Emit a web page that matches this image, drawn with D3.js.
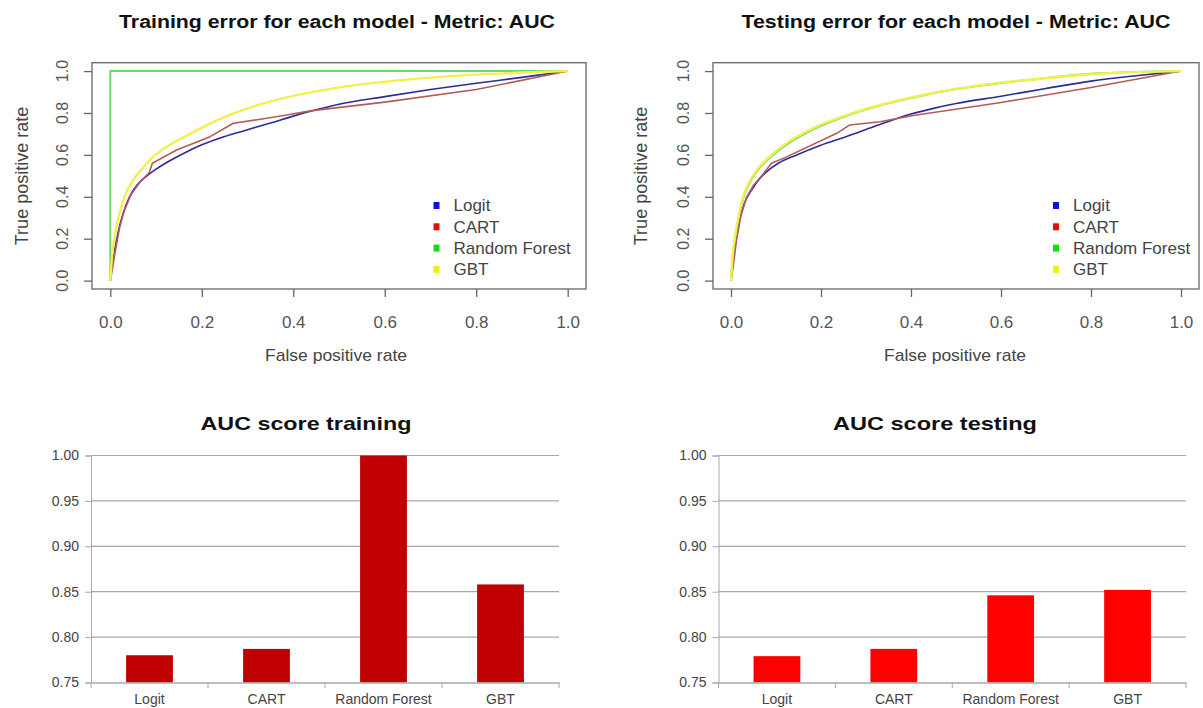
<!DOCTYPE html>
<html><head><meta charset="utf-8">
<script src="https://cdn.jsdelivr.net/npm/d3@7"></script>
<style>
body{margin:0;background:#fff}
svg{display:block}
text{font-family:"Liberation Sans",Arial,Helvetica,sans-serif}
</style>
</head><body>
<svg id="c" width="1203" height="708"></svg>
<script>
// ---------- DATA ----------
const models = ["Logit", "CART", "Random Forest", "GBT"];
const rocTicks = [0, 0.2, 0.4, 0.6, 0.8, 1.0];
const barTicks = [0.75, 0.80, 0.85, 0.90, 0.95, 1.00];

// ROC points [false positive rate, true positive rate] - training
const trainLogit = [[0,0],[0.004,0.07],[0.01,0.15],[0.018,0.24],[0.028,0.32],[0.042,0.4],[0.06,0.46],[0.08,0.5],[0.1,0.532],[0.13,0.572],[0.16,0.607],[0.2,0.648],[0.25,0.688],[0.3,0.72],[0.35,0.752],[0.4,0.785],[0.45,0.815],[0.5,0.842],[0.6,0.878],[0.7,0.912],[0.8,0.942],[0.9,0.97],[0.95,0.985],[1,1]];
const trainCart = [[0,0],[0.005,0.06],[0.01,0.13],[0.02,0.25],[0.03,0.33],[0.045,0.41],[0.065,0.47],[0.085,0.515],[0.092,0.56],[0.145,0.623],[0.218,0.687],[0.269,0.751],[0.328,0.77],[0.386,0.79],[0.437,0.81],[0.6,0.852],[0.8,0.912],[1,1]];
const trainRF = [[0,0],[0,1],[1,1]];
const trainGBT = [[0,0],[0.004,0.12],[0.01,0.22],[0.02,0.32],[0.035,0.42],[0.05,0.48],[0.072,0.54],[0.09,0.583],[0.109,0.618],[0.14,0.66],[0.182,0.71],[0.22,0.752],[0.255,0.785],[0.3,0.822],[0.35,0.855],[0.4,0.882],[0.45,0.903],[0.5,0.922],[0.6,0.949],[0.7,0.969],[0.8,0.983],[0.9,0.993],[1,1]];

// ROC points - testing
const testLogit = [[0,0],[0.004,0.08],[0.01,0.18],[0.018,0.28],[0.03,0.37],[0.045,0.43],[0.065,0.49],[0.085,0.53],[0.105,0.56],[0.146,0.6],[0.198,0.645],[0.257,0.688],[0.331,0.745],[0.4,0.795],[0.45,0.822],[0.5,0.845],[0.6,0.88],[0.7,0.917],[0.8,0.952],[0.9,0.978],[1,1]];
const testCart = [[0,0],[0.005,0.07],[0.012,0.19],[0.022,0.31],[0.035,0.4],[0.05,0.455],[0.072,0.51],[0.09,0.56],[0.12,0.587],[0.235,0.703],[0.264,0.743],[0.331,0.758],[0.405,0.788],[0.6,0.85],[0.8,0.922],[1,1]];
const testRF = [[0,0],[0.004,0.12],[0.009,0.2],[0.017,0.3],[0.027,0.39],[0.04,0.46],[0.057,0.52],[0.087,0.588],[0.124,0.65],[0.183,0.722],[0.257,0.787],[0.331,0.836],[0.4,0.872],[0.5,0.914],[0.6,0.943],[0.7,0.967],[0.8,0.987],[0.9,0.996],[1,1]];
const testGBT = [[0,0],[0.004,0.13],[0.009,0.21],[0.017,0.31],[0.027,0.4],[0.04,0.468],[0.057,0.527],[0.087,0.594],[0.124,0.657],[0.183,0.728],[0.257,0.79],[0.331,0.838],[0.4,0.874],[0.5,0.915],[0.6,0.945],[0.7,0.966],[0.8,0.985],[0.9,0.995],[1,1]];

// AUC scores
const aucTrain = [0.780, 0.787, 1.000, 0.858];
const aucTest = [0.779, 0.787, 0.846, 0.852];

// ---------- STYLE ----------
const lineColors = ["#2c2c96", "#b35a5a", "#6ad86a", "#f2f04c"];
const lineWidths = [1.6, 1.6, 2.0, 2.4];
const legendColors = ["#1010e0", "#e01010", "#10e010", "#f0f010"];

const svg = d3.select("#c");

function rocPanel(opt) {
  const x = d3.scaleLinear().domain([-0.04, 1.04]).range([opt.left, opt.right]);
  const y = d3.scaleLinear().domain([-0.04, 1.04]).range([289, 62.7]);
  const g = svg.append("g");

  g.append("text").attr("x", opt.titleX).attr("y", 28)
    .attr("text-anchor", "middle").attr("font-size", 18).attr("font-weight", "bold")
    .attr("fill", "#111").attr("textLength", opt.titleW).attr("lengthAdjust", "spacingAndGlyphs")
    .text(opt.title);

  opt.series.forEach((pts, i) => {
    const line = d3.line().x(d => x(d[0])).y(d => y(d[1])).curve(opt.curves[i]);
    g.append("path").datum(pts).attr("d", line)
      .attr("fill", "none").attr("stroke", lineColors[i]).attr("stroke-width", lineWidths[i])
      .attr("stroke-linejoin", "round");
  });

  g.append("rect").attr("x", opt.left).attr("y", 62.7)
    .attr("width", opt.right - opt.left).attr("height", 289 - 62.7)
    .attr("fill", "none").attr("stroke", "#666").attr("stroke-width", 1.3);

  const xa = g.append("g").attr("transform", "translate(0,289)")
    .call(d3.axisBottom(x).tickValues(rocTicks).tickSize(8).tickPadding(19).tickFormat(d3.format(".1f")));
  xa.select(".domain").remove();
  xa.selectAll("line").attr("stroke", "#666").attr("stroke-width", 1.3);
  xa.selectAll("text").attr("font-size", 17).attr("fill", "#555")
    .attr("font-family", "Liberation Sans, Arial, sans-serif");

  const ya = g.append("g").attr("transform", `translate(${opt.left},0)`)
    .call(d3.axisLeft(y).tickValues(rocTicks).tickSize(8).tickFormat(d3.format(".1f")));
  ya.select(".domain").remove();
  ya.selectAll("line").attr("stroke", "#666").attr("stroke-width", 1.3);
  ya.selectAll("text").remove();
  rocTicks.forEach(t => {
    g.append("text").attr("transform", `translate(${opt.left - 30},${y(t)}) rotate(-90)`)
      .attr("text-anchor", "middle").attr("dy", "0.35em")
      .attr("font-size", 16).attr("fill", "#555").text(d3.format(".1f")(t));
  });

  g.append("text").attr("x", opt.xLabelX).attr("y", 361).attr("text-anchor", "middle")
    .attr("font-size", 17).attr("fill", "#444").attr("textLength", 142).attr("lengthAdjust", "spacingAndGlyphs")
    .text("False positive rate");
  g.append("text").attr("transform", `translate(${opt.yLabelX},176) rotate(-90)`)
    .attr("text-anchor", "middle").attr("dy", "0.35em").attr("font-size", 18).attr("fill", "#444")
    .text("True positive rate");

  models.forEach((m, i) => {
    const cy = 205.5 + i * 21.3;
    g.append("rect").attr("x", opt.legX - 3).attr("y", cy - 3.5).attr("width", 6).attr("height", 7)
      .attr("fill", legendColors[i]);
    g.append("text").attr("x", opt.legX + 17).attr("y", cy).attr("dy", "0.35em")
      .attr("font-size", 17).attr("fill", "#444").text(m);
  });
}

rocPanel({
  left: 92, right: 586, title: "Training error for each model - Metric: AUC", titleX: 337, titleW: 436,
  series: [trainLogit, trainCart, trainRF, trainGBT],
  curves: [d3.curveMonotoneX, d3.curveLinear, d3.curveLinear, d3.curveMonotoneX],
  xLabelX: 336, yLabelX: 22, legX: 436.5
});
rocPanel({
  left: 713, right: 1199, title: "Testing error for each model - Metric: AUC", titleX: 956, titleW: 429,
  series: [testLogit, testCart, testRF, testGBT],
  curves: [d3.curveMonotoneX, d3.curveLinear, d3.curveMonotoneX, d3.curveMonotoneX],
  xLabelX: 955, yLabelX: 641, legX: 1056
});

function barPanel(opt) {
  const x = d3.scaleBand().domain(models).range([opt.left, opt.right]).paddingInner(0.6).paddingOuter(0.3);
  const y = d3.scaleLinear().domain([0.75, 1.0]).range([682.5, 455.5]);
  const g = svg.append("g");

  g.append("text").attr("x", opt.titleX).attr("y", 430).attr("text-anchor", "middle")
    .attr("font-size", 19).attr("font-weight", "bold").attr("fill", "#111")
    .attr("textLength", opt.titleW).attr("lengthAdjust", "spacingAndGlyphs").text(opt.title);

  const ya = g.append("g").attr("transform", `translate(${opt.left},0)`)
    .call(d3.axisLeft(y).tickValues(barTicks).tickSize(6).tickPadding(6).tickFormat(d3.format(".2f")));
  ya.select(".domain").attr("stroke", "#a8a8a8");
  ya.selectAll("line").attr("stroke", "#a8a8a8");
  ya.selectAll("text").attr("font-size", 14).attr("fill", "#444")
    .attr("font-family", "Liberation Sans, Arial, sans-serif");
  g.append("g").selectAll("line").data(barTicks.slice(1)).join("line")
    .attr("x1", opt.left).attr("x2", opt.right).attr("y1", d => y(d)).attr("y2", d => y(d))
    .attr("stroke", "#a8a8a8").attr("stroke-width", 1.2);

  g.append("g").selectAll("rect").data(opt.values).join("rect")
    .attr("x", (d, i) => x(models[i])).attr("width", x.bandwidth())
    .attr("y", d => y(d)).attr("height", d => y(0.75) - y(d))
    .attr("fill", opt.color);

  const xa = g.append("g").attr("transform", "translate(0,682.5)")
    .call(d3.axisBottom(x).tickSize(0).tickPadding(12));
  xa.select(".domain").attr("stroke", "#a8a8a8").attr("stroke-width", 1.3);
  xa.selectAll("text").attr("font-size", 14).attr("fill", "#444")
    .attr("font-family", "Liberation Sans, Arial, sans-serif");
  const bounds = d3.range(models.length + 1).map(i => opt.left + i * (opt.right - opt.left) / models.length);
  g.append("g").selectAll("line").data(bounds).join("line")
    .attr("x1", d => d).attr("x2", d => d).attr("y1", 682.5).attr("y2", 688)
    .attr("stroke", "#a8a8a8");
}

barPanel({ left: 91, right: 559, title: "AUC  score training", titleX: 306, titleW: 211, values: aucTrain, color: "#c00000" });
barPanel({ left: 718.5, right: 1186, title: "AUC  score testing", titleX: 935, titleW: 204, values: aucTest, color: "#ff0000" });
</script>
</body></html>
